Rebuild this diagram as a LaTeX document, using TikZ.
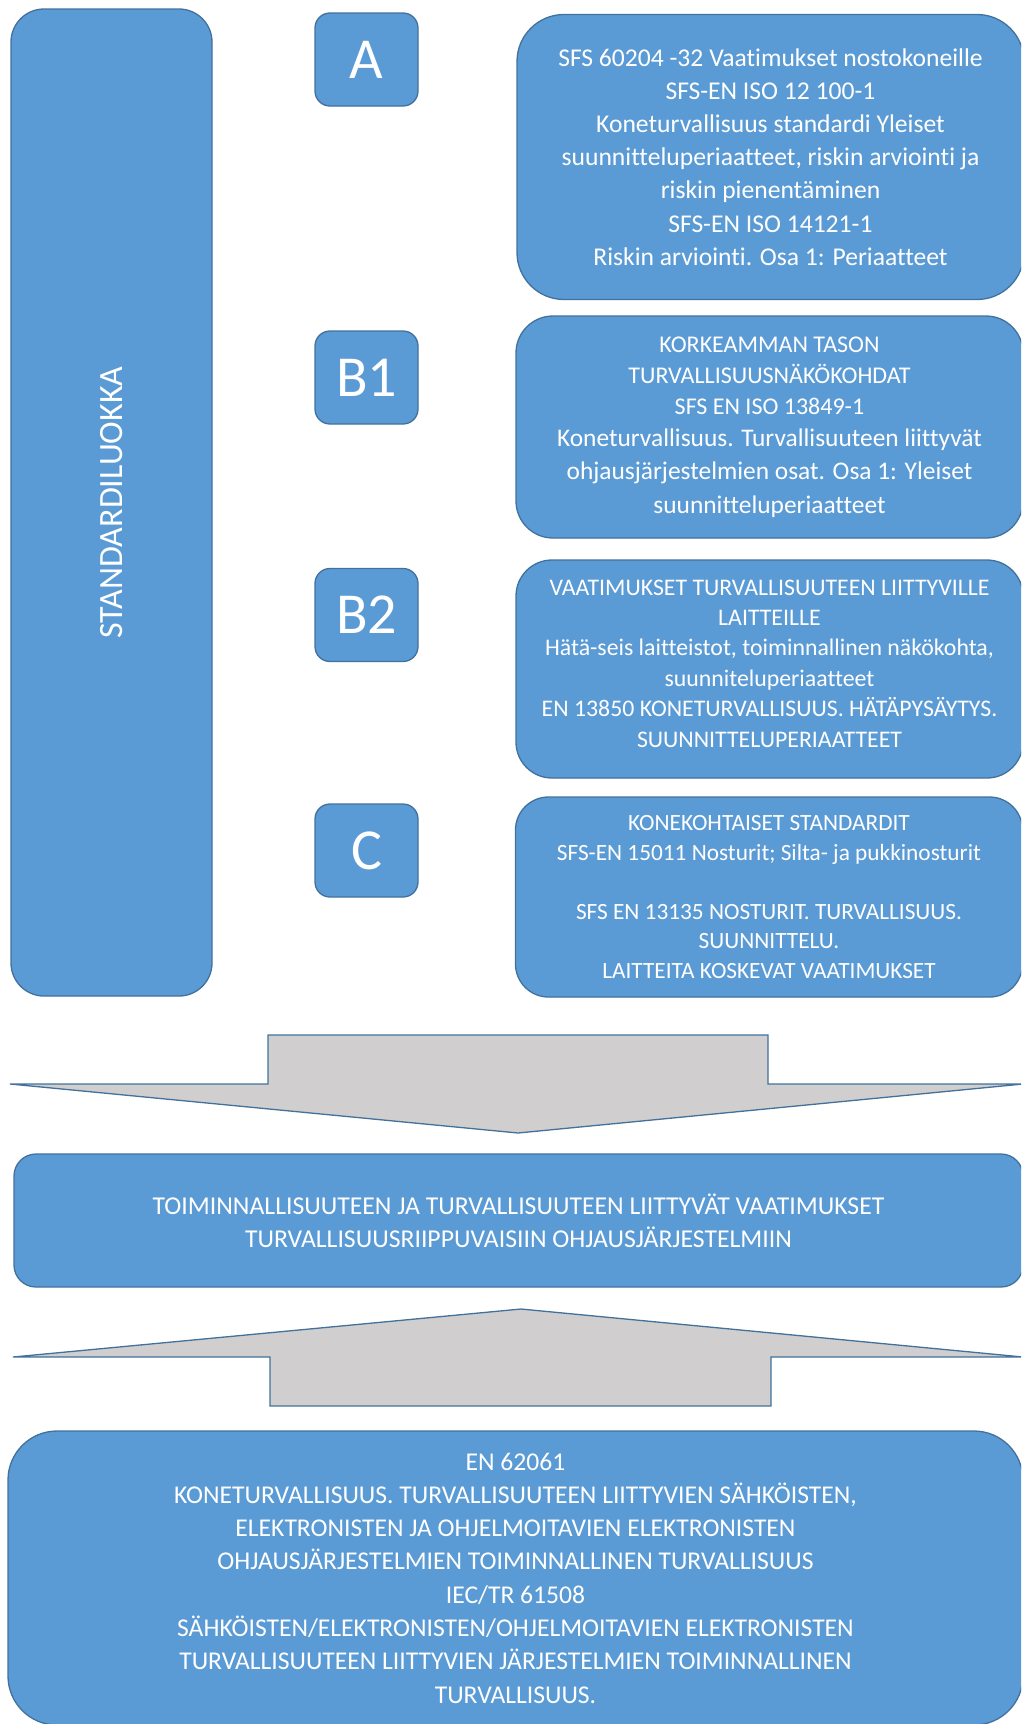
\documentclass[tikz,border=0pt]{standalone}
\usepackage{fontspec}
\setmainfont{Carlito}[Ligatures=NoCommon, RawFeature={-liga;-clig;-calt}]
\usetikzlibrary{positioning}
\definecolor{boxblue}{HTML}{5B9BD5}
\definecolor{boxedge}{HTML}{41719C}
\definecolor{arrowgrey}{HTML}{D0CECE}
\newcommand{\fs}[2]{\fontsize{#1}{#2}\selectfont}

\begin{document}
\begin{tikzpicture}[x=1pt, y=-1pt, line width=1.3pt,
  box/.style={draw=boxedge, fill=boxblue, text=white, align=center, inner sep=0pt},
  level/.style={box, rounded corners=15pt, minimum width=103pt, minimum height=93pt, font=\fs{58}{58}},
  stdbox/.style={box, minimum width=507pt},
  blockarrow/.style={draw=boxedge, fill=arrowgrey, line join=miter}]
\useasboundingbox (0,0) rectangle (1021,1724);
\clip (0,0) rectangle (1021,1724);

% vasen palkki
\node[box, rounded corners=33pt, minimum width=201pt, minimum height=987pt] (luokka) at (111.5,502.5) {};
\node[rotate=90, text=white, font=\fs{34}{34}] (luokkatxt) at (luokka.center) {STANDARDILUOKKA};

% tasot
\foreach \lab/\yc/\nm in {A/59.5/lvA, B1/377.5/lvB1, B2/615/lvB2, C/850.5/lvC}
  \node[level] (\nm) at (366.5,\yc) {\lab};

% standardit
\node[stdbox, rounded corners=47pt, minimum height=285pt, font=\fs{25.6}{33.2}] (stdA) at (770.5,157)
  {SFS 60204 -32 Vaatimukset nostokoneille\\SFS-EN ISO 12 100-1\\Koneturvallisuus standardi Yleiset\\
   suunnitteluperiaatteet,  riskin arviointi ja\\riskin pienentäminen\\SFS-EN ISO 14121-1\\Riskin arviointi. Osa 1: Periaatteet};
\node[stdbox, rounded corners=37pt, minimum height=222pt, font=\fs{24}{31}] (stdB1) at (769.5,427)
  {KORKEAMMAN TASON\\TURVALLISUUSNÄKÖKOHDAT\\SFS EN ISO 13849-1\\[1pt]
   \fs{25.4}{33}Koneturvallisuus. Turvallisuuteen liittyvät\\[2.5pt]\fs{25.4}{33}ohjausjärjestelmien osat. Osa 1: Yleiset\\[2.5pt]\fs{25.4}{33}suunnitteluperiaatteet};
\node[stdbox, rounded corners=36pt, minimum height=218pt, font=\fs{23.8}{30.4}] (stdB2) at (769.5,669)
  {VAATIMUKSET TURVALLISUUTEEN  LIITTYVILLE\\LAITTEILLE\\Hätä-seis laitteistot, toiminnallinen näkökohta,\\
   suunniteluperiaatteet\\EN 13850 KONETURVALLISUUS. HÄTÄPYSÄYTYS.\\SUUNNITTELUPERIAATTEET\\[-19pt]};
\node[stdbox, rounded corners=33pt, minimum height=200pt, font=\fs{23.3}{29.5}] (stdC) at (769,897)
  {KONEKOHTAISET STANDARDIT\\SFS-EN 15011 Nosturit; Silta- ja pukkinosturit\\[29.5pt]
   SFS EN 13135 NOSTURIT. TURVALLISUUS.\\SUUNNITTELU.\\LAITTEITA KOSKEVAT VAATIMUKSET};

% nuolet ja vaatimukset
\draw[blockarrow] (268,1035) -- (768,1035) -- (768,1084) -- (1023,1084) -- (518,1133)
  -- (10,1084) -- (268,1084) -- cycle;
\node[box, rounded corners=22pt, minimum width=1009pt, minimum height=133pt, font=\fs{25.7}{33}] (vaat) at (518.5,1220.5)
  {TOIMINNALLISUUTEEN JA TURVALLISUUTEEN LIITTYVÄT VAATIMUKSET\\TURVALLISUUSRIIPPUVAISIIN  OHJAUSJÄRJESTELMIIN};
\draw[blockarrow] (521,1309) -- (1023,1357) -- (771,1357) -- (771,1406) -- (270,1406)
  -- (270,1357) -- (13,1357) -- cycle;
\node[box, rounded corners=49pt, minimum width=1015pt, minimum height=294pt, font=\fs{25.6}{33.3}] (en62061) at (515.5,1578)
  {EN 62061\\KONETURVALLISUUS. TURVALLISUUTEEN LIITTYVIEN SÄHKÖISTEN,\\ELEKTRONISTEN JA OHJELMOITAVIEN ELEKTRONISTEN\\
   OHJAUSJÄRJESTELMIEN TOIMINNALLINEN TURVALLISUUS\\IEC/TR 61508\\SÄHKÖISTEN/ELEKTRONISTEN/OHJELMOITAVIEN ELEKTRONISTEN\\
   TURVALLISUUTEEN LIITTYVIEN JÄRJESTELMIEN TOIMINNALLINEN\\TURVALLISUUS.};
\end{tikzpicture}
\end{document}
